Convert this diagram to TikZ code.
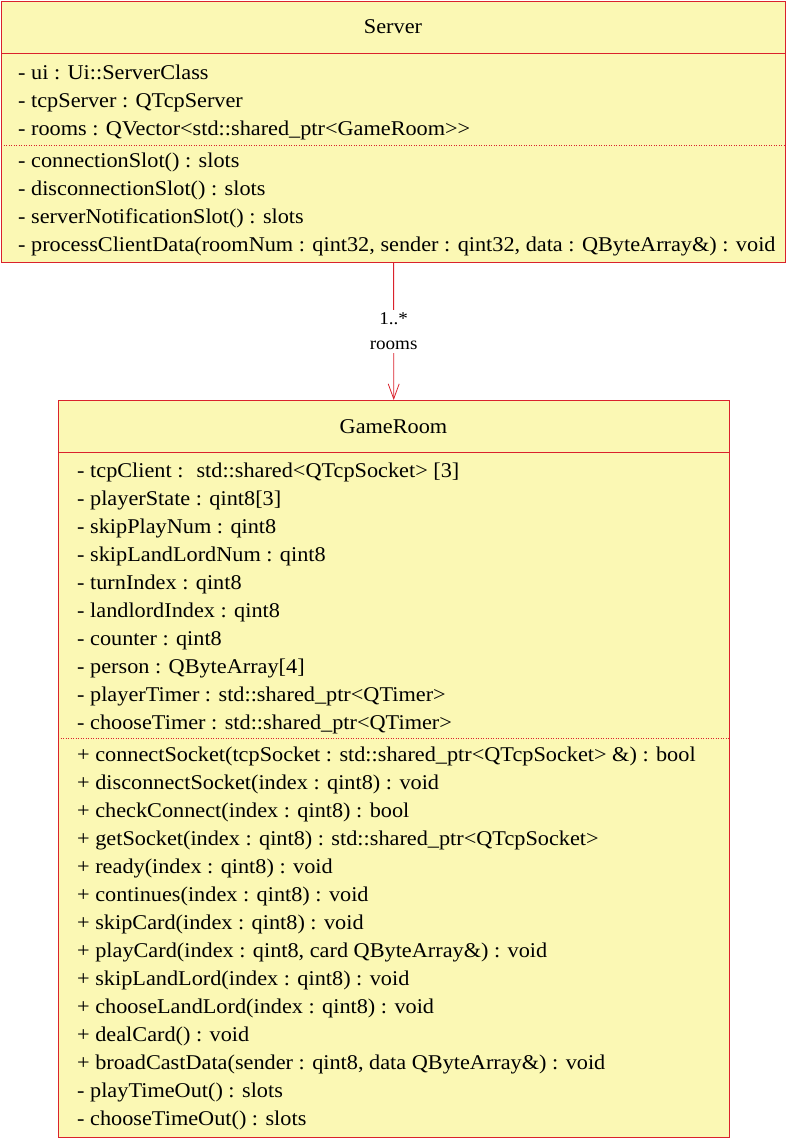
\documentclass[tikz,border=0pt]{standalone}
\usepackage{fontspec}
\setmainfont[FakeStretch=1.06]{Liberation Serif}
\usepackage{xcolor}
\usetikzlibrary{arrows.meta}
\definecolor{umlfill}{RGB}{251,248,180}
\definecolor{umlred}{RGB}{218,34,44}

\begin{document}
\begin{tikzpicture}[x=1pt,y=-1pt,
    classbox/.style={draw=umlred, fill=umlfill, line width=1pt, inner sep=0pt, anchor=north west},
    titolo/.style={font=\fontsize{21}{24}\selectfont, inner sep=0pt},
    membro/.style={font=\fontsize{21}{24}\selectfont, inner sep=0pt, anchor=base west},
    riga/.style={draw=umlred, line width=0.8pt},
    puntini/.style={draw=umlred, line width=0.8pt, dash pattern=on 1pt off 1.5pt},
    assoc/.style={draw=umlred, line width=0.8pt, -{Straight Barb[length=15pt,width=11pt]}}]
    \useasboundingbox (0,0) rectangle (787,1144);

    % Classe Server
    \node[classbox, minimum width=784pt, minimum height=261pt] (server) at (1,1) {};
    \node[titolo] (servertitle) at (393,27) {Server};
    \draw[riga] (1,53) -- (785,53);
    \foreach \t [count=\i] in {{- ui : Ui::ServerClass},
                               {- tcpServer : QTcpServer},
                               {- rooms : QVector<std::shared\_ptr<GameRoom>{}>}}
        \node[membro] (sa\i) at (18,{79+28*(\i-1)}) {\t};
    \draw[puntini] (1,145) -- (785,145);
    \foreach \t [count=\i] in {{- connectionSlot() : slots},
                               {- disconnectionSlot() : slots},
                               {- serverNotificationSlot() : slots},
                               {- processClientData(roomNum : qint32, sender : qint32, data : QByteArray\&) : void}}
        \node[membro] (sm\i) at (18,{167+28*(\i-1)}) {\t};

    % Classe GameRoom
    \node[classbox, minimum width=671pt, minimum height=737pt] (gameroom) at (58,400) {};
    \node[titolo] (roomtitle) at (393.5,427) {GameRoom};
    \draw[riga] (58,452) -- (729,452);
    \foreach \t [count=\i] in {{- tcpClient :~ std::shared<QTcpSocket> [3]},
                               {- playerState : qint8[3]},
                               {- skipPlayNum : qint8},
                               {- skipLandLordNum : qint8},
                               {- turnIndex : qint8},
                               {- landlordIndex : qint8},
                               {- counter : qint8},
                               {- person : QByteArray[4]},
                               {- playerTimer : std::shared\_ptr<QTimer>},
                               {- chooseTimer : std::shared\_ptr<QTimer>}}
        \node[membro] (ga\i) at (77,{477+28*(\i-1)}) {\t};
    \draw[puntini] (58,738) -- (729,738);
    \foreach \t [count=\i] in {{+ connectSocket(tcpSocket : std::shared\_ptr<QTcpSocket> \&) : bool},
                               {+ disconnectSocket(index : qint8) : void},
                               {+ checkConnect(index : qint8) : bool},
                               {+ getSocket(index : qint8) : std::shared\_ptr<QTcpSocket>},
                               {+ ready(index : qint8) : void},
                               {+ continues(index : qint8) : void},
                               {+ skipCard(index : qint8) : void},
                               {+ playCard(index : qint8, card QByteArray\&) : void},
                               {+ skipLandLord(index : qint8) : void},
                               {+ chooseLandLord(index : qint8) : void},
                               {+ dealCard() : void},
                               {+ broadCastData(sender : qint8, data QByteArray\&) : void},
                               {- playTimeOut() : slots},
                               {- chooseTimeOut() : slots}}
        \node[membro] (gm\i) at (77,{761+28*(\i-1)}) {\t};

    % Associazione
    \draw[assoc] (server) -- node[fill=white, align=center, inner sep=3pt,
        font=\fontsize{18}{25}\selectfont] (molt) {1..*\\rooms} (gameroom);
\end{tikzpicture}
\end{document}
